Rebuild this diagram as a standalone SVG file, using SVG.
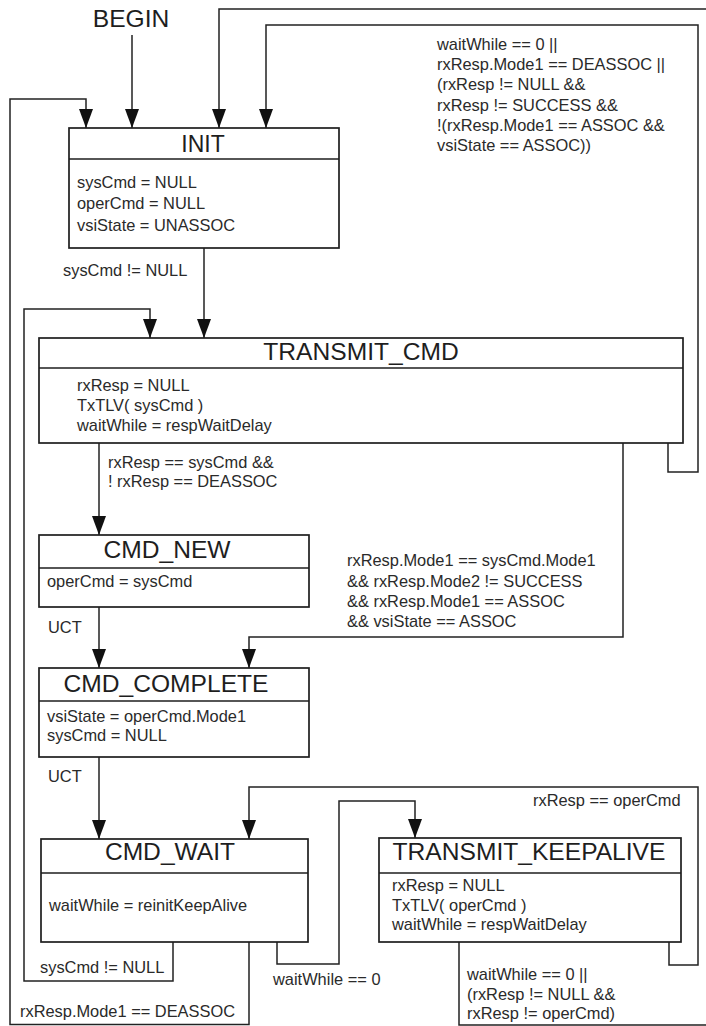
<svg xmlns="http://www.w3.org/2000/svg" width="706" height="1026" viewBox="0 0 706 1026">
<style>
  .box{fill:#fff;stroke:#1e1e1e;stroke-width:1.7}
  .sep{stroke:#1e1e1e;stroke-width:1.5}
  .title{font-family:"Liberation Sans",Arial,sans-serif;font-size:24.6px;fill:#1e1e1e;text-anchor:middle}
  .body{font-family:"Liberation Sans",Arial,sans-serif;font-size:16.4px;fill:#2a2a2a}
  .lbl{font-family:"Liberation Sans",Arial,sans-serif;font-size:16.4px;fill:#2a2a2a}
  .conn path{fill:none;stroke:#222;stroke-width:1.5}
</style>
<defs>
  <marker id="arr" markerUnits="userSpaceOnUse" markerWidth="19" markerHeight="14" refX="19" refY="7" orient="auto">
    <path d="M0,0 L19,7 L0,14 z" fill="#111"/>
  </marker>
</defs>
<rect width="706" height="1026" fill="#fff"/>

<text class="title" x="131" y="27">BEGIN</text>

<g class="conn" id="connectors">
  <path d="M132,35 V128" marker-end="url(#arr)"/>
  <path d="M459,942 V1025 H720 V9 H219 V128" marker-end="url(#arr)"/>
  <path d="M668,443 V472 H698 V25 H266 V128" marker-end="url(#arr)"/>
  <path d="M249,942 V1024.5 H10 V99 H86 V128" marker-end="url(#arr)"/>
  <path d="M204,248 V338" marker-end="url(#arr)"/>
  <path d="M173,942 V981 H24 V309 H150 V338" marker-end="url(#arr)"/>
  <path d="M99,443 V535" marker-end="url(#arr)"/>
  <path d="M623,443 V637 H249 V668" marker-end="url(#arr)"/>
  <path d="M99,607 V668" marker-end="url(#arr)"/>
  <path d="M99,757 V839" marker-end="url(#arr)"/>
  <path d="M277,942 V964 H339 V801 H415 V838" marker-end="url(#arr)"/>
  <path d="M669,942 V965 H698 V787 H249 V839" marker-end="url(#arr)"/>
</g>

<g id="labels">
  <text class="lbl" x="63" y="276">sysCmd != NULL</text>
  <text class="lbl" x="437" y="50">waitWhile == 0 ||</text>
  <text class="lbl" x="437" y="70">rxResp.Mode1 == DEASSOC ||</text>
  <text class="lbl" x="437" y="90">(rxResp != NULL &amp;&amp;</text>
  <text class="lbl" x="437" y="111">rxResp != SUCCESS &amp;&amp;</text>
  <text class="lbl" x="437" y="131">!(rxResp.Mode1 == ASSOC &amp;&amp;</text>
  <text class="lbl" x="437" y="151">vsiState == ASSOC))</text>
  <text class="lbl" x="108" y="468">rxResp == sysCmd &amp;&amp;</text>
  <text class="lbl" x="108" y="487">! rxResp == DEASSOC</text>
  <text class="lbl" x="347" y="566">rxResp.Mode1 == sysCmd.Mode1</text>
  <text class="lbl" x="347" y="587">&amp;&amp; rxResp.Mode2 != SUCCESS</text>
  <text class="lbl" x="347" y="607">&amp;&amp; rxResp.Mode1 == ASSOC</text>
  <text class="lbl" x="347" y="627">&amp;&amp; vsiState == ASSOC</text>
  <text class="lbl" x="48" y="633">UCT</text>
  <text class="lbl" x="48" y="782">UCT</text>
  <text class="lbl" x="533" y="806">rxResp == operCmd</text>
  <text class="lbl" x="40" y="973">sysCmd != NULL</text>
  <text class="lbl" x="273" y="985">waitWhile == 0</text>
  <text class="lbl" x="20" y="1017">rxResp.Mode1 == DEASSOC</text>
  <text class="lbl" x="467" y="980">waitWhile == 0 ||</text>
  <text class="lbl" x="467" y="1000">(rxResp != NULL &amp;&amp;</text>
  <text class="lbl" x="467" y="1019">rxResp != operCmd)</text>
</g>

<g id="INIT">
  <rect class="box" x="69" y="128" width="270" height="120"/>
  <line class="sep" x1="69" y1="159" x2="339" y2="159"/>
  <text class="title" x="203" y="152" style="font-size:23px">INIT</text>
  <text class="body" x="77" y="188">sysCmd = NULL</text>
  <text class="body" x="77" y="209">operCmd = NULL</text>
  <text class="body" x="77" y="231">vsiState = UNASSOC</text>
</g>

<g id="TRANSMIT_CMD">
  <rect class="box" x="39" y="338" width="644" height="105"/>
  <line class="sep" x1="39" y1="368" x2="683" y2="368"/>
  <text class="title" x="361" y="360">TRANSMIT_CMD</text>
  <text class="body" x="77" y="391">rxResp = NULL</text>
  <text class="body" x="77" y="411">TxTLV( sysCmd )</text>
  <text class="body" x="77" y="431">waitWhile = respWaitDelay</text>
</g>

<g id="CMD_NEW">
  <rect class="box" x="39" y="535" width="270" height="72"/>
  <line class="sep" x1="39" y1="568" x2="309" y2="568"/>
  <text class="title" x="167" y="558">CMD_NEW</text>
  <text class="body" x="47" y="587">operCmd = sysCmd</text>
</g>

<g id="CMD_COMPLETE">
  <rect class="box" x="39" y="668" width="270" height="89"/>
  <line class="sep" x1="39" y1="701" x2="309" y2="701"/>
  <text class="title" x="166" y="692">CMD_COMPLETE</text>
  <text class="body" x="47" y="722">vsiState = operCmd.Mode1</text>
  <text class="body" x="47" y="741">sysCmd = NULL</text>
</g>

<g id="CMD_WAIT">
  <rect class="box" x="41" y="839" width="267" height="103"/>
  <line class="sep" x1="41" y1="873" x2="308" y2="873"/>
  <text class="title" x="170" y="860">CMD_WAIT</text>
  <text class="body" x="49" y="911">waitWhile = reinitKeepAlive</text>
</g>

<g id="TRANSMIT_KEEPALIVE">
  <rect class="box" x="379" y="838" width="302" height="104"/>
  <line class="sep" x1="379" y1="873" x2="681" y2="873"/>
  <text class="title" x="529" y="860">TRANSMIT_KEEPALIVE</text>
  <text class="body" x="392" y="891">rxResp = NULL</text>
  <text class="body" x="392" y="911">TxTLV( operCmd )</text>
  <text class="body" x="392" y="930">waitWhile = respWaitDelay</text>
</g>
</svg>
